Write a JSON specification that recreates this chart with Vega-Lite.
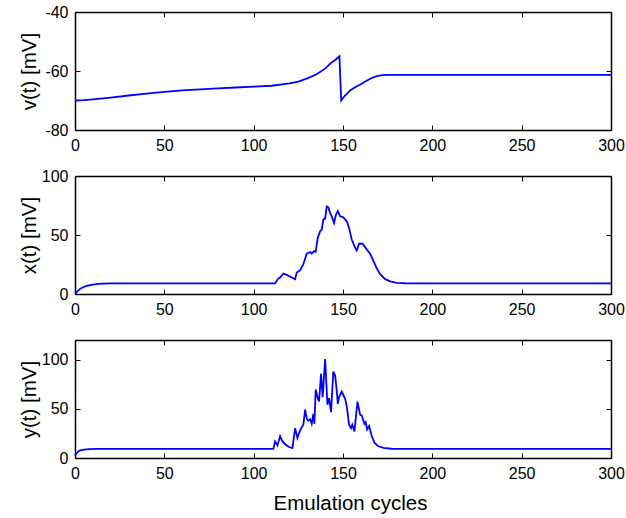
{
  "$schema": "https://vega.github.io/schema/vega-lite/v6.json",
  "padding": {"left": 18, "top": 4, "right": 0, "bottom": 0},
  "background": "white",
  "spacing": 46,
  "bounds": "flush",
  "config": {
    "font": "Liberation Sans",
    "view": {"stroke": null},
    "axis": {
      "domainColor": "black", "domainWidth": 1.5,
      "tickColor": "black", "tickWidth": 1, "tickSize": -5,
      "labelPadding": 12, "labelFontSize": 16, "labelColor": "black",
      "labelFlush": false, "labelOverlap": false,
      "titleFontSize": 20.5, "titleFontWeight": "normal", "titleColor": "black",
      "grid": false
    }
  },
  "datasets": {
    "v": [
      {"t": 0, "val": -70}, {"t": 5, "val": -69.9}, {"t": 10, "val": -69.6}, {"t": 20, "val": -69.0},
      {"t": 30, "val": -68.3}, {"t": 40, "val": -67.7}, {"t": 50, "val": -67.1}, {"t": 60, "val": -66.6},
      {"t": 70, "val": -66.2}, {"t": 80, "val": -65.9}, {"t": 90, "val": -65.6}, {"t": 100, "val": -65.3},
      {"t": 110, "val": -65.0}, {"t": 115, "val": -64.6}, {"t": 120, "val": -64.2}, {"t": 125, "val": -63.6},
      {"t": 130, "val": -62.5}, {"t": 135, "val": -61.2}, {"t": 140, "val": -59.2}, {"t": 143, "val": -57.4},
      {"t": 146, "val": -56.1}, {"t": 148, "val": -55.0}, {"t": 149, "val": -70.0}, {"t": 151, "val": -68.4},
      {"t": 154, "val": -66.6}, {"t": 157, "val": -65.4}, {"t": 160, "val": -64.5}, {"t": 163, "val": -63.4},
      {"t": 166, "val": -62.4}, {"t": 169, "val": -61.7}, {"t": 172, "val": -61.4}, {"t": 176, "val": -61.3},
      {"t": 300, "val": -61.3}
    ],
    "x": [
      {"t": 0, "val": 0}, {"t": 1, "val": 1.8}, {"t": 2, "val": 3.3}, {"t": 3, "val": 4.4}, {"t": 4, "val": 5.3},
      {"t": 6, "val": 6.6}, {"t": 8, "val": 7.4}, {"t": 10, "val": 8.0}, {"t": 13, "val": 8.5}, {"t": 16, "val": 8.8},
      {"t": 20, "val": 9.0}, {"t": 112, "val": 9.0}, {"t": 113.5, "val": 12.6}, {"t": 114.8, "val": 14.0},
      {"t": 116.6, "val": 17.4}, {"t": 118.5, "val": 16.2}, {"t": 121.3, "val": 14.0}, {"t": 123.2, "val": 12.6},
      {"t": 124.1, "val": 18.2}, {"t": 126, "val": 20.2}, {"t": 127.8, "val": 25.2}, {"t": 129.7, "val": 34.2},
      {"t": 131.6, "val": 35.6}, {"t": 132.5, "val": 34.2}, {"t": 133.8, "val": 36.4}, {"t": 134.7, "val": 35.8},
      {"t": 135.9, "val": 47.6}, {"t": 137.2, "val": 53.2}, {"t": 138.1, "val": 54.6}, {"t": 139, "val": 63.0},
      {"t": 140, "val": 63.9}, {"t": 140.9, "val": 74.2}, {"t": 141.8, "val": 73.4}, {"t": 142.8, "val": 68.6},
      {"t": 143.7, "val": 65.8}, {"t": 145, "val": 60.2}, {"t": 146, "val": 67.2}, {"t": 147.1, "val": 70.3},
      {"t": 148.4, "val": 65.8}, {"t": 150.2, "val": 65.0}, {"t": 152.1, "val": 61.6}, {"t": 153.4, "val": 56.0},
      {"t": 154.9, "val": 46.2}, {"t": 156.8, "val": 39.2}, {"t": 157.7, "val": 37.0}, {"t": 159, "val": 42.6},
      {"t": 160.9, "val": 42.6}, {"t": 163.3, "val": 37.8}, {"t": 165.2, "val": 34.2}, {"t": 167, "val": 28.0},
      {"t": 168.9, "val": 21.8}, {"t": 170.8, "val": 16.8}, {"t": 173.6, "val": 12.6}, {"t": 176.4, "val": 10.7},
      {"t": 180.1, "val": 9.5}, {"t": 185, "val": 9.1}, {"t": 300, "val": 9.0}
    ],
    "y": [
      {"t": 0, "val": 2.5}, {"t": 1, "val": 5.0}, {"t": 2, "val": 6.8}, {"t": 3, "val": 7.8}, {"t": 5, "val": 8.6},
      {"t": 8, "val": 9.0}, {"t": 12, "val": 9.2}, {"t": 111, "val": 9.2}, {"t": 112, "val": 16.9},
      {"t": 113.3, "val": 12.8}, {"t": 114.8, "val": 22.3}, {"t": 116.1, "val": 16.9}, {"t": 118, "val": 13.5},
      {"t": 119.8, "val": 11.2}, {"t": 121.7, "val": 10.1}, {"t": 123.2, "val": 30.4}, {"t": 124.5, "val": 20.3},
      {"t": 125.6, "val": 26.4}, {"t": 126.9, "val": 31.4}, {"t": 127.8, "val": 33.8}, {"t": 128.8, "val": 49.3},
      {"t": 129.7, "val": 39.9}, {"t": 130.6, "val": 38.1}, {"t": 131.6, "val": 39.2}, {"t": 132.5, "val": 34.8},
      {"t": 133.4, "val": 44.9}, {"t": 134, "val": 34.8}, {"t": 134.7, "val": 69.6}, {"t": 135.9, "val": 60.9},
      {"t": 136.6, "val": 57.4}, {"t": 137.7, "val": 85.5}, {"t": 138.6, "val": 61.9}, {"t": 140, "val": 100.7},
      {"t": 141.3, "val": 54.1}, {"t": 142.2, "val": 60.9}, {"t": 143.3, "val": 46.7}, {"t": 144.6, "val": 87.8},
      {"t": 145.6, "val": 83.8}, {"t": 146.5, "val": 68.6}, {"t": 147.1, "val": 55.1}, {"t": 147.8, "val": 61.9},
      {"t": 149.3, "val": 67.5}, {"t": 151.2, "val": 60.1}, {"t": 152.1, "val": 52.7}, {"t": 153.4, "val": 33.8},
      {"t": 154.5, "val": 30.4}, {"t": 155.2, "val": 33.8}, {"t": 156.4, "val": 27.0}, {"t": 158.1, "val": 57.4},
      {"t": 159.6, "val": 43.9}, {"t": 160.5, "val": 43.3}, {"t": 162, "val": 34.8}, {"t": 162.7, "val": 36.4},
      {"t": 163.5, "val": 29.0}, {"t": 164.6, "val": 32.5}, {"t": 166.1, "val": 22.3}, {"t": 167.6, "val": 15.5},
      {"t": 169.5, "val": 12.2}, {"t": 172.6, "val": 10.4}, {"t": 177, "val": 9.4}, {"t": 185, "val": 9.2},
      {"t": 300, "val": 9.2}
    ]
  },
  "vconcat": [
    {
      "width": 536, "height": 118,
      "data": {"name": "v"},
      "layer": [
        {
          "mark": {"type": "line", "strokeOpacity": 0},
          "encoding": {
            "x": {"field": "t", "type": "quantitative", "scale": {"domain": [0, 300], "nice": false, "zero": false},
                  "axis": {"values": [0, 50, 100, 150, 200, 250, 300], "title": null, "labelExpr": "'' + datum.value"}},
            "y": {"field": "val", "type": "quantitative", "scale": {"domain": [-80, -40], "nice": false, "zero": false},
                  "axis": {"values": [-80, -60, -40], "title": "v(t) [mV]", "titleX": -36, "labelExpr": "'' + datum.value"}}
          }
        },
        {
          "mark": {"type": "line", "color": "#0000ff", "strokeWidth": 1.8},
          "encoding": {
            "x": {"field": "t", "type": "quantitative", "axis": {"values": [0, 50, 100, 150, 200, 250, 300], "labels": false, "title": null}},
            "y": {"field": "val", "type": "quantitative", "axis": {"values": [-80, -60, -40], "labels": false, "title": null}}
          }
        }
      ],
      "resolve": {"axis": {"x": "independent", "y": "independent"}}
    },
    {
      "width": 536, "height": 118,
      "data": {"name": "x"},
      "layer": [
        {
          "mark": {"type": "line", "strokeOpacity": 0},
          "encoding": {
            "x": {"field": "t", "type": "quantitative", "scale": {"domain": [0, 300], "nice": false, "zero": false},
                  "axis": {"values": [0, 50, 100, 150, 200, 250, 300], "title": null, "labelExpr": "'' + datum.value"}},
            "y": {"field": "val", "type": "quantitative", "scale": {"domain": [0, 100], "nice": false, "zero": false},
                  "axis": {"values": [0, 50, 100], "title": "x(t) [mV]", "titleX": -36, "labelExpr": "'' + datum.value"}}
          }
        },
        {
          "mark": {"type": "line", "color": "#0000ff", "strokeWidth": 1.8},
          "encoding": {
            "x": {"field": "t", "type": "quantitative", "axis": {"values": [0, 50, 100, 150, 200, 250, 300], "labels": false, "title": null}},
            "y": {"field": "val", "type": "quantitative", "axis": {"values": [0, 50, 100], "labels": false, "title": null}}
          }
        }
      ],
      "resolve": {"axis": {"x": "independent", "y": "independent"}}
    },
    {
      "width": 536, "height": 118,
      "data": {"name": "y"},
      "layer": [
        {
          "mark": {"type": "line", "strokeOpacity": 0},
          "encoding": {
            "x": {"field": "t", "type": "quantitative", "scale": {"domain": [0, 300], "nice": false, "zero": false},
                  "axis": {"values": [0, 50, 100, 150, 200, 250, 300], "title": "Emulation cycles", "titlePadding": 12, "titleX": 275, "labelExpr": "'' + datum.value"}},
            "y": {"field": "val", "type": "quantitative", "scale": {"domain": [0, 120], "nice": false, "zero": false},
                  "axis": {"values": [0, 50, 100], "title": "y(t) [mV]", "titleX": -36, "labelExpr": "'' + datum.value"}}
          }
        },
        {
          "mark": {"type": "line", "color": "#0000ff", "strokeWidth": 1.8},
          "encoding": {
            "x": {"field": "t", "type": "quantitative", "axis": {"values": [0, 50, 100, 150, 200, 250, 300], "labels": false, "title": null}},
            "y": {"field": "val", "type": "quantitative", "axis": {"values": [0, 50, 100], "labels": false, "title": null}}
          }
        }
      ],
      "resolve": {"axis": {"x": "independent", "y": "independent"}}
    }
  ]
}
